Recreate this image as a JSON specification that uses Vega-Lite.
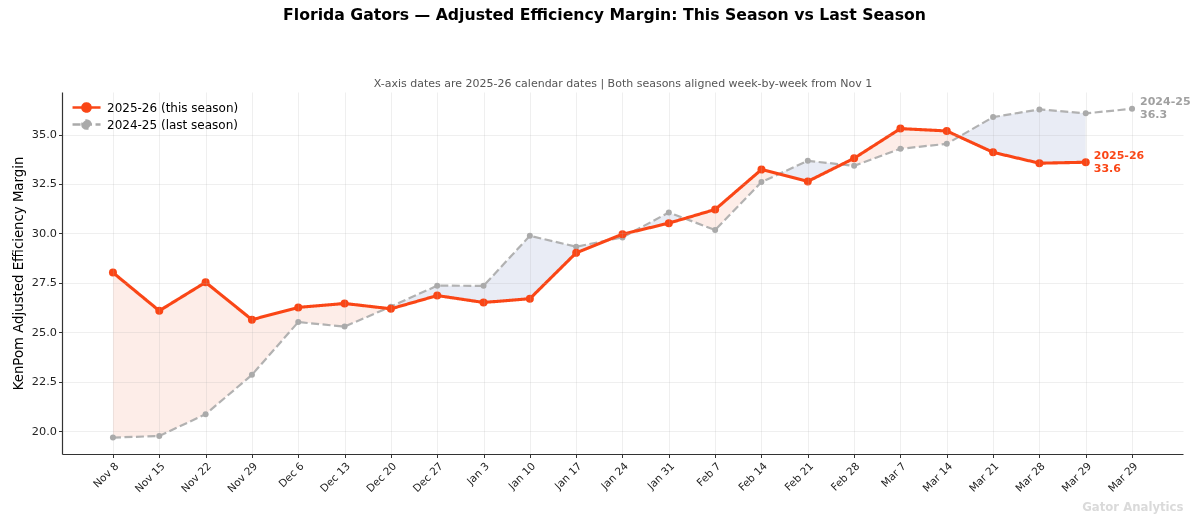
{
  "$schema": "https://vega.github.io/schema/vega-lite/v6.json",
  "width": 1121,
  "height": 362,
  "padding": {"left": 11, "top": 7, "right": 5, "bottom": 5},
  "background": "white",
  "title": {
    "text": "Florida Gators — Adjusted Efficiency Margin: This Season vs Last Season",
    "anchor": "middle",
    "dx": -18,
    "offset": 53,
    "fontSize": 15.7,
    "fontWeight": "bold",
    "color": "#000000"
  },
  "data": {
    "values": [
      {"idx": 0, "week": "Nov 8", "this": 28.02, "last": 19.68},
      {"idx": 1, "week": "Nov 15", "this": 26.09, "last": 19.76},
      {"idx": 2, "week": "Nov 22", "this": 27.53, "last": 20.86},
      {"idx": 3, "week": "Nov 29", "this": 25.64, "last": 22.85},
      {"idx": 4, "week": "Dec 6", "this": 26.26, "last": 25.52},
      {"idx": 5, "week": "Dec 13", "this": 26.46, "last": 25.29},
      {"idx": 6, "week": "Dec 20", "this": 26.19, "last": 26.3},
      {"idx": 7, "week": "Dec 27", "this": 26.86, "last": 27.36},
      {"idx": 8, "week": "Jan 3", "this": 26.51, "last": 27.35},
      {"idx": 9, "week": "Jan 10", "this": 26.7, "last": 29.88},
      {"idx": 10, "week": "Jan 17", "this": 29.02, "last": 29.33},
      {"idx": 11, "week": "Jan 24", "this": 29.96, "last": 29.8},
      {"idx": 12, "week": "Jan 31", "this": 30.52, "last": 31.06},
      {"idx": 13, "week": "Feb 7", "this": 31.21, "last": 30.17},
      {"idx": 14, "week": "Feb 14", "this": 33.23, "last": 32.6},
      {"idx": 15, "week": "Feb 21", "this": 32.63, "last": 33.67},
      {"idx": 16, "week": "Feb 28", "this": 33.8, "last": 33.42},
      {"idx": 17, "week": "Mar 7", "this": 35.3, "last": 34.28},
      {"idx": 18, "week": "Mar 14", "this": 35.18, "last": 34.53},
      {"idx": 19, "week": "Mar 21", "this": 34.1, "last": 35.88},
      {"idx": 20, "week": "Mar 28", "this": 33.55, "last": 36.27},
      {"idx": 21, "week": "Mar 29", "this": 33.6, "last": 36.07},
      {"idx": 22, "week": "Mar 29", "this": null, "last": 36.3}
    ]
  },
  "encoding": {
    "x": {
      "field": "idx",
      "type": "quantitative",
      "scale": {"domain": [-1.1, 23.1], "nice": false, "zero": false},
      "axis": null
    }
  },
  "resolve": {"axis": {"x": "independent"}},
  "layer": [
    {
      "transform": [{"filter": "datum.this != null"}],
      "mark": {"type": "area", "color": "#E9ECE8"},
      "encoding": {
        "y": {"field": "this", "type": "quantitative", "title": "KenPom Adjusted Efficiency Margin",
              "scale": {"domain": [18.85, 37.15], "nice": false, "zero": false}},
        "y2": {"field": "last"}
      }
    },
    {
      "transform": [{"filter": "datum.this != null"}],
      "mark": {"type": "area", "color": "#FDEDE8", "blend": "lighten"},
      "encoding": {
        "y": {"field": "this", "type": "quantitative", "title": "KenPom Adjusted Efficiency Margin"},
        "y2": {"datum": 18.85}
      }
    },
    {
      "transform": [{"filter": "datum.this != null"}],
      "mark": {"type": "area", "color": "#E9ECF5", "blend": "lighten"},
      "encoding": {
        "y": {"field": "last", "type": "quantitative", "title": "KenPom Adjusted Efficiency Margin"},
        "y2": {"datum": 18.85}
      }
    },
    {
      "mark": {"type": "line", "strokeWidth": 2.2, "opacity": 0.9},
      "encoding": {
        "y": {"field": "last", "type": "quantitative", "title": "KenPom Adjusted Efficiency Margin"},
        "color": {"datum": "last"},
        "strokeDash": {"datum": "last"}
      }
    },
    {
      "mark": {"type": "circle", "size": 36, "opacity": 1},
      "encoding": {
        "y": {"field": "last", "type": "quantitative", "title": "KenPom Adjusted Efficiency Margin"},
        "color": {"datum": "last"}
      }
    },
    {
      "mark": {"type": "line", "strokeWidth": 3.1},
      "encoding": {
        "x": {
          "field": "idx",
          "type": "quantitative",
          "scale": {"domain": [-1.1, 23.1], "nice": false, "zero": false},
          "axis": {
            "orient": "bottom",
            "zindex": 1,
            "values": [0, 1, 2, 3, 4, 5, 6, 7, 8, 9, 10, 11, 12, 13, 14, 15, 16, 17, 18, 19, 20, 21, 22],
            "labelExpr": "['Nov 8','Nov 15','Nov 22','Nov 29','Dec 6','Dec 13','Dec 20','Dec 27','Jan 3','Jan 10','Jan 17','Jan 24','Jan 31','Feb 7','Feb 14','Feb 21','Feb 28','Mar 7','Mar 14','Mar 21','Mar 28','Mar 29','Mar 29'][datum.value]",
            "labelAngle": -45,
            "labelAlign": "right",
            "labelBaseline": "top",
            "labelFontSize": 10.5,
            "labelPadding": 3,
            "grid": true,
            "title": "Gator Analytics",
            "titleAnchor": "end",
            "titleColor": "#dadada",
            "titleFontSize": 11.7,
            "titleFontWeight": "bold",
            "titlePadding": 7
          }
        },
        "y": {
          "field": "this",
          "type": "quantitative",
          "title": "KenPom Adjusted Efficiency Margin",
          "axis": {
            "zindex": 1,
            "values": [20, 22.5, 25, 27.5, 30, 32.5, 35],
            "format": ".1f",
            "labelFontSize": 11.3,
            "titleFontSize": 13.3,
            "titleFontWeight": "normal",
            "titlePadding": 6,
            "grid": true
          }
        },
        "color": {
          "datum": "this",
          "scale": {"domain": ["this", "last"], "range": ["#FA4616", "#AAAAAA"]},
          "legend": {
            "title": null,
            "orient": "top-left",
            "offset": 5,
            "padding": 3,
            "labelExpr": "datum.value == 'this' ? '2025-26 (this season)' : '2024-25 (last season)'",
            "labelFontSize": 12,
            "labelColor": "#000000",
            "labelOffset": 22,
            "rowPadding": -2,
            "symbolType": "M-0.83,0H3.84M0.83,0A0.67,0.67 0 1,0 2.17,0A0.67,0.67 0 1,0 0.83,0",
            "symbolSize": 144,
            "symbolStrokeWidth": 2.6,
            "encode": {"symbols": {"update": {"fill": {"scale": "color", "field": "value"}}}}
          }
        },
        "strokeDash": {
          "datum": "this",
          "scale": {"domain": ["this", "last"], "range": [[1, 0], [8, 3.5]]},
          "legend": null
        }
      }
    },
    {
      "mark": {"type": "circle", "size": 64, "opacity": 1},
      "encoding": {
        "y": {"field": "this", "type": "quantitative", "title": "KenPom Adjusted Efficiency Margin"},
        "color": {"datum": "this"}
      }
    },
    {
      "transform": [{"filter": "datum.idx == 21"}],
      "mark": {"type": "text", "align": "left", "baseline": "middle", "dx": 8, "dy": -6.5, "fontSize": 11, "fontWeight": "bold", "color": "#FA4616", "lineHeight": 13},
      "encoding": {
        "y": {"field": "this", "type": "quantitative", "title": "KenPom Adjusted Efficiency Margin"},
        "text": {"value": ["2025-26", "33.6"]}
      }
    },
    {
      "transform": [{"filter": "datum.idx == 22"}],
      "mark": {"type": "text", "align": "left", "baseline": "middle", "dx": 8, "dy": -6.5, "fontSize": 11, "fontWeight": "bold", "color": "#A0A0A0", "lineHeight": 13},
      "encoding": {
        "x": {
          "field": "idx",
          "type": "quantitative",
          "scale": {"domain": [-1.1, 23.1], "nice": false, "zero": false},
          "axis": {
            "orient": "top",
            "labels": false,
            "ticks": false,
            "domain": false,
            "grid": false,
            "title": "X-axis dates are 2025-26 calendar dates  |  Both seasons aligned week-by-week from Nov 1",
            "titleFontSize": 11,
            "titleFontWeight": "normal",
            "titleColor": "#555555",
            "titlePadding": 4
          }
        },
        "y": {"field": "last", "type": "quantitative", "title": "KenPom Adjusted Efficiency Margin"},
        "text": {"value": ["2024-25", "36.3"]}
      }
    }
  ],
  "config": {
    "font": "DejaVu Sans",
    "view": {"stroke": null},
    "axis": {
      "domainColor": "#333333",
      "domainWidth": 1.2,
      "tickColor": "#333333",
      "tickSize": 3.5,
      "labelColor": "#222222",
      "titleColor": "#000000",
      "gridColor": "#b0b0b0",
      "gridOpacity": 0.2
    }
  }
}
